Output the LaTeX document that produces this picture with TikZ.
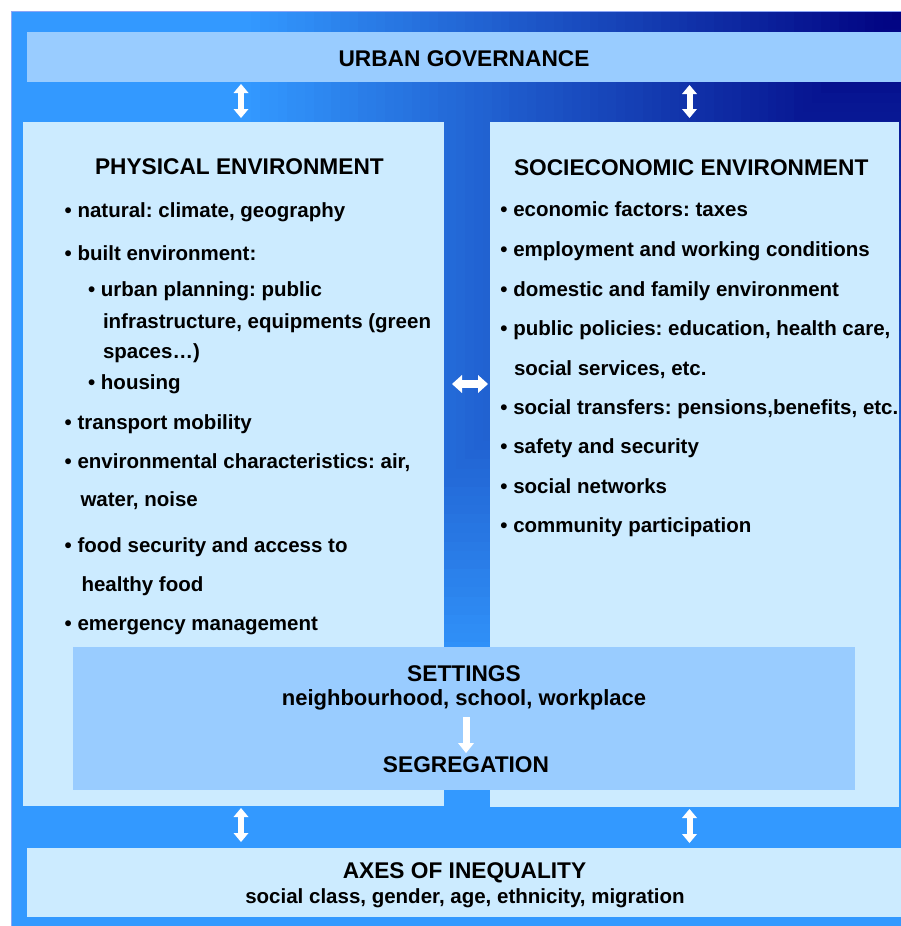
\documentclass[tikz,border=0pt]{standalone}
\usepackage{fontspec}
\setmainfont{Liberation Sans}
\usetikzlibrary{arrows.meta}
\definecolor{bgLight}{RGB}{51,153,255}
\definecolor{bgNavy}{RGB}{0,0,128}
\definecolor{boxMid}{RGB}{153,204,255}
\definecolor{boxLight}{RGB}{204,235,255}
\definecolor{frameLine}{RGB}{140,165,245}
\frenchspacing
\begin{document}
\begin{tikzpicture}[x=1pt,y=-1pt,
  panel/.style={draw=none, inner sep=0pt, outer sep=0pt, rectangle},
  midpanel/.style={panel, fill=boxMid},
  lightpanel/.style={panel, fill=boxLight},
  head/.style={inner sep=0pt, outer sep=0pt, font=\fontsize{22.7}{27}\selectfont\bfseries},
  sub/.style={inner sep=0pt, outer sep=0pt, font=\fontsize{22}{26}\selectfont\bfseries},
  body/.style={inner sep=0pt, outer sep=0pt, anchor=base west, font=\fontsize{20.5}{24}\selectfont\bfseries},
  axsub/.style={inner sep=0pt, outer sep=0pt, font=\fontsize{20.5}{24}\selectfont\bfseries},
  dblv/.style={draw=white, line width=6pt,
     {Triangle[width=15pt,length=9pt,line width=0pt]}-{Triangle[width=15pt,length=9pt,line width=0pt]}},
  dblh/.style={draw=white, line width=8pt,
     {Triangle[width=18pt,length=10pt,line width=0pt]}-{Triangle[width=18pt,length=10pt,line width=0pt]}},
  downarr/.style={draw=white, line width=7pt,
     -{Triangle[width=16pt,length=10pt,line width=0pt]}}
]
\useasboundingbox (0,0) rectangle (901,926);
\fill[white] (0,0) rectangle (901,926);
% background frame with corner gradient
\fill[bgLight] (11,11) rectangle (901,926);
\foreach \i in {74,73,...,1}{
  \pgfmathsetmacro\w{\i*8.9}
  \pgfmathsetmacro\h{\i*9.15}
  \pgfmathtruncatemacro\p{round(\i*100/74)}
  \fill[bgLight!\p!bgNavy] ({901-\w},11) rectangle (901,{11+\h});
}
\draw[frameLine, line width=1pt] (11.5,926) -- (11.5,11.5) -- (901,11.5);

% panels
\node[midpanel, minimum width=874pt, minimum height=50pt] (urban) at (464,57) {};
\node[lightpanel, minimum width=421pt, minimum height=684pt] (phys) at (233.5,464) {};
\node[lightpanel, minimum width=409pt, minimum height=685pt] (socio) at (694.5,464.5) {};
\node[midpanel, minimum width=782pt, minimum height=143pt] (sett) at (464,718.5) {};
\node[lightpanel, minimum width=874pt, minimum height=69pt] (axes) at (464,882.5) {};

% texts
\node[head, anchor=base] (urbanT) at (464,66) {URBAN GOVERNANCE};

\node[head, anchor=base west] (physT) at (95,174.3) {PHYSICAL ENVIRONMENT};
\node[body] (p1) at (64.7,217.3) {• natural: climate, geography};
\node[body] (p2) at (64.7,260.7) {• built environment:};
\node[body] (p3) at (88.1,296.7) {• urban planning: public};
\node[body] (p4) at (103,328.3) {infrastructure, equipments (green};
\node[body] (p5) at (103,358.3) {spaces…)};
\node[body] (p6) at (88.1,389.3) {• housing};
\node[body] (p7) at (64.7,429.3) {• transport mobility};
\node[body] (p8) at (64.7,468.3) {• environmental characteristics: air,};
\node[body] (p9) at (80.5,506.7) {water, noise};
\node[body] (p10) at (64.7,552.7) {• food security and access to};
\node[body] (p11) at (81.5,591.7) {healthy food};
\node[body] (p12) at (64.7,630) {• emergency management};

\node[head, anchor=base west] (socT) at (514,175) {SOCIECONOMIC ENVIRONMENT};
\node[body] (s1) at (500.4,216.7) {• economic factors: taxes};
\node[body] (s2) at (500.4,256.7) {• employment and working conditions};
\node[body] (s3) at (500.4,296) {• domestic and family environment};
\node[body] (s4) at (500.4,335) {• public policies: education, health care,};
\node[body] (s5) at (514,375) {social services, etc.};
\node[body] (s6) at (500.4,414.5) {• social transfers: pensions,benefits, etc.};
\node[body] (s7) at (500.4,453.5) {• safety and security};
\node[body] (s8) at (500.4,493) {• social networks};
\node[body] (s9) at (500.4,532) {• community participation};

\node[head, anchor=base] (settT) at (464,681.7) {SETTINGS};
\node[sub, anchor=base] (settsub) at (464,705) {neighbourhood, school, workplace};
\node[head, anchor=base] (segr) at (466,772.5) {SEGREGATION};

\node[head, anchor=base] (axesT) at (464.5,878.3) {AXES OF INEQUALITY};
\node[axsub, anchor=base] (axesS) at (465,903.3) {social class, gender, age, ethnicity, migration};

% connectors
\coordinate (cL) at (241,0);
\coordinate (cR) at (689.5,0);
\coordinate (cM) at (0,384);
\coordinate (cD) at (466,0);
\draw[dblv, shorten <=2pt, shorten >=4pt] (cL |- urban.south) -- (cL |- phys.north);
\draw[dblv, shorten <=3pt, shorten >=4pt] (cR |- urban.south) -- (cR |- socio.north);
\draw[dblv, shorten <=2pt, shorten >=6pt] (cL |- phys.south) -- (cL |- axes.north);
\draw[dblv, shorten <=2pt, shorten >=5pt] (cR |- socio.south) -- (cR |- axes.north);
\draw[dblh, shorten <=8pt, shorten >=2pt] (phys.east |- cM) -- (socio.west |- cM);
\draw[downarr, shorten <=7.5pt, shorten >=3.6pt] (cD |- settsub.south) -- (cD |- segr.north);
\end{tikzpicture}
\end{document}
